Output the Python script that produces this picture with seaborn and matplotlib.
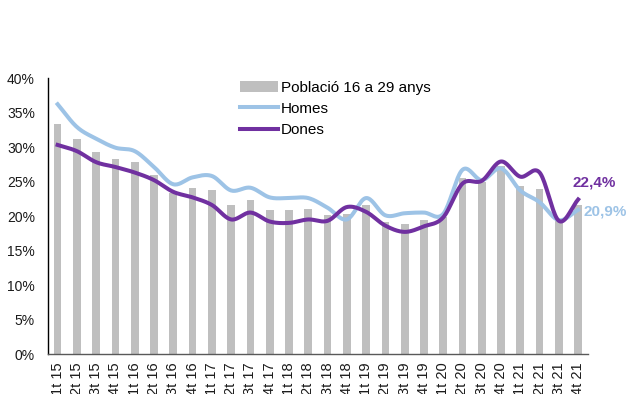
import numpy as np
import pandas as pd
import matplotlib
matplotlib.use("Agg")
import matplotlib.pyplot as plt
import seaborn as sns
from matplotlib.patches import Patch
from matplotlib.lines import Line2D

quarters = ["1t 15", "2t 15", "3t 15", "4t 15", "1t 16", "2t 16", "3t 16", "4t 16",
            "1t 17", "2t 17", "3t 17", "4t 17", "1t 18", "2t 18", "3t 18", "4t 18",
            "1t 19", "2t 19", "3t 19", "4t 19", "1t 20", "2t 20", "3t 20", "4t 20",
            "1t 21", "2t 21", "3t 21", "4t 21"]

poblacio = [33.4, 31.1, 29.3, 28.3, 27.8, 25.9, 23.4, 24.0,
            23.7, 21.6, 22.3, 20.9, 20.8, 21.0, 20.2, 20.3,
            21.6, 19.1, 18.9, 19.4, 19.9, 25.5, 25.0, 27.2,
            24.3, 23.9, 19.4, 21.6]

homes = [36.2, 32.9, 31.2, 29.9, 29.4, 27.1, 24.6, 25.6,
         25.8, 23.7, 24.1, 22.7, 22.6, 22.6, 21.2, 19.5,
         22.6, 20.1, 20.4, 20.5, 20.3, 26.7, 25.2, 26.9,
         23.7, 22.0, 19.4, 20.9]

dones = [30.3, 29.4, 27.8, 27.1, 26.3, 25.2, 23.5, 22.7,
         21.6, 19.5, 20.5, 19.2, 19.0, 19.5, 19.3, 21.3,
         20.6, 18.6, 17.7, 18.5, 19.8, 24.7, 25.1, 27.9,
         25.7, 26.3, 19.3, 22.4]

GREY = "#BFBFBF"
BLUE = "#9DC3E6"
PURPLE = "#7030A0"


def smooth(values, n=20):
    """Catmull-Rom spline through the quarterly points."""
    p = np.asarray(values, dtype=float)
    ext = np.concatenate([[2 * p[0] - p[1]], p, [2 * p[-1] - p[-2]]])
    xs, ys = [], []
    for i in range(len(p) - 1):
        p0, p1, p2, p3 = ext[i], ext[i + 1], ext[i + 2], ext[i + 3]
        t = np.linspace(0, 1, n, endpoint=False)
        y = 0.5 * ((2 * p1) + (-p0 + p2) * t + (2 * p0 - 5 * p1 + 4 * p2 - p3) * t ** 2
                   + (-p0 + 3 * p1 - 3 * p2 + p3) * t ** 3)
        xs.append(i + t)
        ys.append(y)
    xs.append([len(p) - 1])
    ys.append([p[-1]])
    return np.concatenate(xs), np.concatenate(ys)


plt.rcParams["font.family"] = ["Liberation Sans", "DejaVu Sans"]

fig = plt.figure(figsize=(6.28, 3.94), dpi=100)
ax = fig.add_axes([0.0764, 0.1015, 0.8596, 0.7005])

df = pd.DataFrame({"trimestre": quarters, "poblacio": np.array(poblacio) / 100})
sns.barplot(data=df, x="trimestre", y="poblacio", color=GREY, width=0.4,
            saturation=1, ax=ax, edgecolor="none")

for vals, col in [(homes, BLUE), (dones, PURPLE)]:
    sx, sy = smooth(vals)
    sns.lineplot(x=sx, y=sy / 100, color=col, linewidth=2.9, ax=ax,
                 sort=False, estimator=None)

ax.set_ylim(0, 0.40)
ax.set_xlim(-0.5, len(quarters) - 0.5)
ax.set_yticks(np.arange(0, 0.41, 0.05))
ax.set_yticklabels([f"{int(round(v * 100))}%" for v in np.arange(0, 0.41, 0.05)])
ax.set_xticks(range(len(quarters)))
ax.set_xticklabels(quarters, rotation=90)
ax.tick_params(axis="x", length=0, labelsize=10.5, colors="#1a1a1a", pad=6)
ax.tick_params(axis="y", length=0, labelsize=10, colors="#1a1a1a", pad=9.5)
ax.set_xlabel("")
ax.set_ylabel("")
for s in ["top", "right"]:
    ax.spines[s].set_visible(False)
ax.spines["left"].set_color("black")
ax.spines["left"].set_linewidth(1.0)
ax.spines["bottom"].set_color("#595959")
ax.spines["bottom"].set_linewidth(1.0)

last = len(quarters) - 1
ax.annotate(f"{dones[-1]:.1f}%".replace(".", ","), (last, dones[-1] / 100),
            xytext=(-4, 7), textcoords="offset points", color=PURPLE,
            fontsize=11, fontweight="bold", ha="left", va="bottom")
ax.annotate(f"{homes[-1]:.1f}%".replace(".", ","), (last, homes[-1] / 100),
            xytext=(4, -1), textcoords="offset points", color=BLUE,
            fontsize=11, fontweight="bold", ha="left", va="center",
            annotation_clip=False)

handles = [Patch(facecolor=GREY, edgecolor="none"),
           Line2D([0], [0], color=BLUE, linewidth=2.9),
           Line2D([0], [0], color=PURPLE, linewidth=2.9)]
labels = ["Població 16 a 29 anys", "Homes", "Dones"]
ax.legend(handles, labels, loc="upper left", bbox_to_anchor=(0.344, 1.012),
          frameon=False, fontsize=11, handlelength=2.5, handletextpad=0.2,
          labelspacing=0.46, borderaxespad=0)

fig.savefig("out.png", dpi=100)
